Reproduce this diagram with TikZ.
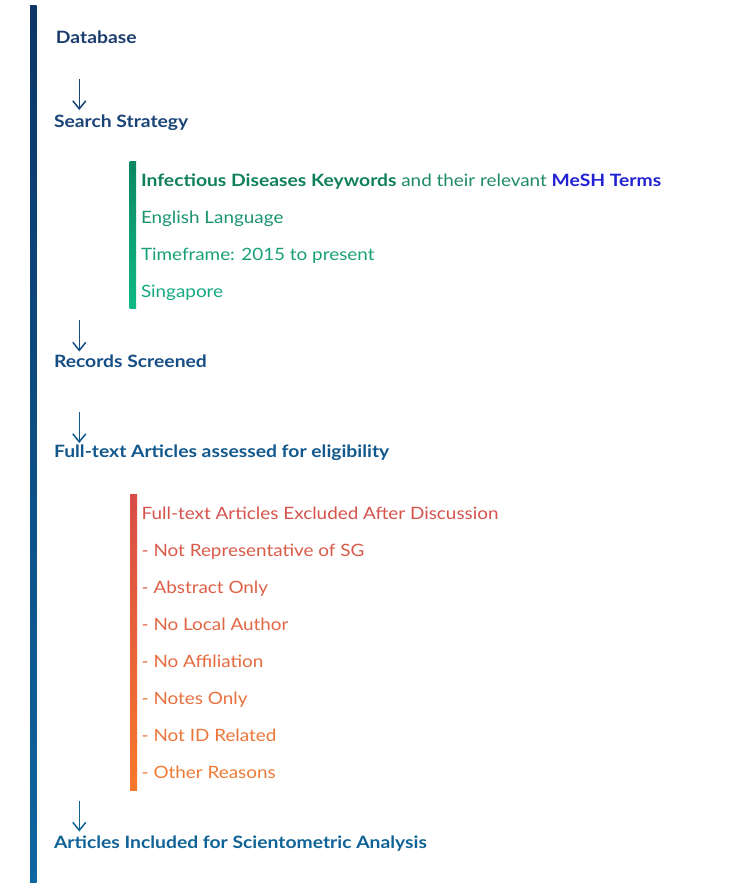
\documentclass[tikz,border=0pt]{standalone}
\usepackage{fontspec}
\setmainfont{Lato}[FakeStretch=1.11,BoldFeatures={FakeStretch=1.135}]
\usetikzlibrary{arrows.meta}
\definecolor{navyA}{HTML}{1B3D6E}
\definecolor{navyB}{HTML}{1A4477}
\definecolor{navyC}{HTML}{154E84}
\definecolor{navyD}{HTML}{12588C}
\definecolor{navyE}{HTML}{0F6396}
\definecolor{barTop}{HTML}{0D3566}
\definecolor{barBot}{HTML}{0C66A0}
\definecolor{gA}{HTML}{10805A}
\definecolor{gA2}{HTML}{1E8A66}
\definecolor{gB}{HTML}{1A9470}
\definecolor{gC}{HTML}{17A078}
\definecolor{gD}{HTML}{14AA80}
\definecolor{mesh}{HTML}{2222D4}
\definecolor{gTop}{HTML}{0B8760}
\definecolor{gBot}{HTML}{10BA84}
\definecolor{oA}{HTML}{D6524C}
\definecolor{oB}{HTML}{D95A49}
\definecolor{oC}{HTML}{DD6046}
\definecolor{oD}{HTML}{E16643}
\definecolor{oE}{HTML}{E46B40}
\definecolor{oF}{HTML}{E8703C}
\definecolor{oG}{HTML}{EC7539}
\definecolor{oH}{HTML}{F07A35}
\definecolor{oTop}{HTML}{D84D47}
\definecolor{oBot}{HTML}{F7782A}
\begin{document}
\begin{tikzpicture}[x=1pt,y=-1pt,
  every node/.style={inner sep=0pt,outer sep=0pt,anchor=base west,font=\fontsize{17}{20}\selectfont},
  head/.style={font=\fontsize{17}{20}\selectfont\bfseries},
  item/.style={font=\fontsize{17}{20}\selectfont},
  arr/.style={line width=1.5pt,-{Straight Barb[length=8pt,width=13pt,line width=1.5pt]}}]
\useasboundingbox (0,0) rectangle (747,895);
% main bar
\shade[top color=barTop,bottom color=barBot] (30,5) rectangle (36.7,882);
% headings
\node[head,text=navyA] (db) at (56,43) {Database};
\node[head,text=navyB] (ss) at (54,127) {Search Strategy};
\node[head,text=navyC] (rs) at (54,367) {Records Screened};
\node[head,text=navyD] (ft) at (54,457.5) {Full-text Articles assessed for eligibility};
\node[head,text=navyE] (ai) at (54,848) {Articles Included for Scientometric Analysis};
% arrows
\coordinate (a1s) at (79.3,79);   \coordinate (a1e) at (79.3,110);
\coordinate (a2s) at (79.3,320);  \coordinate (a2e) at (79.3,351.5);
\coordinate (a3s) at (79.3,411.5);\coordinate (a3e) at (79.3,443);
\coordinate (a4s) at (79.3,800.5);\coordinate (a4e) at (79.3,831.5);
\draw[arr,navyB] (a1s) -- (a1e);
\draw[arr,navyC] (a2s) -- (a2e);
\draw[arr,navyD] (a3s) -- (a3e);
\draw[arr,navyE] (a4s) -- (a4e);
% green block
\shade[top color=gTop,bottom color=gBot] (129.5,161) rectangle (136.2,308);
\node[item] (g1) at (141,186) {\textcolor{gA}{\bfseries Infectious Diseases Keywords} \textcolor{gA2}{and their relevant} \textcolor{mesh}{\bfseries MeSH Terms}};
\node[item,text=gB] (g2) at (141,223) {English Language};
\node[item,text=gC] (g3) at (141,260) {Timeframe: 2015 to present};
\node[item,text=gD] (g4) at (141,297) {Singapore};
% orange block
\shade[top color=oTop,bottom color=oBot] (130,494.3) rectangle (137,790);
\node[item,text=oA] (o1) at (141.7,519) {Full-text Articles Excluded After Discussion};
\node[item,text=oB] (o2) at (141.7,556) {- Not Representative of SG};
\node[item,text=oC] (o3) at (141.7,593) {- Abstract Only};
\node[item,text=oD] (o4) at (141.7,630) {- No Local Author};
\node[item,text=oE] (o5) at (141.7,667) {- No Affiliation};
\node[item,text=oF] (o6) at (141.7,704) {- Notes Only};
\node[item,text=oG] (o7) at (141.7,741) {- Not ID Related};
\node[item,text=oH] (o8) at (141.7,778) {- Other Reasons};
\end{tikzpicture}
\end{document}
